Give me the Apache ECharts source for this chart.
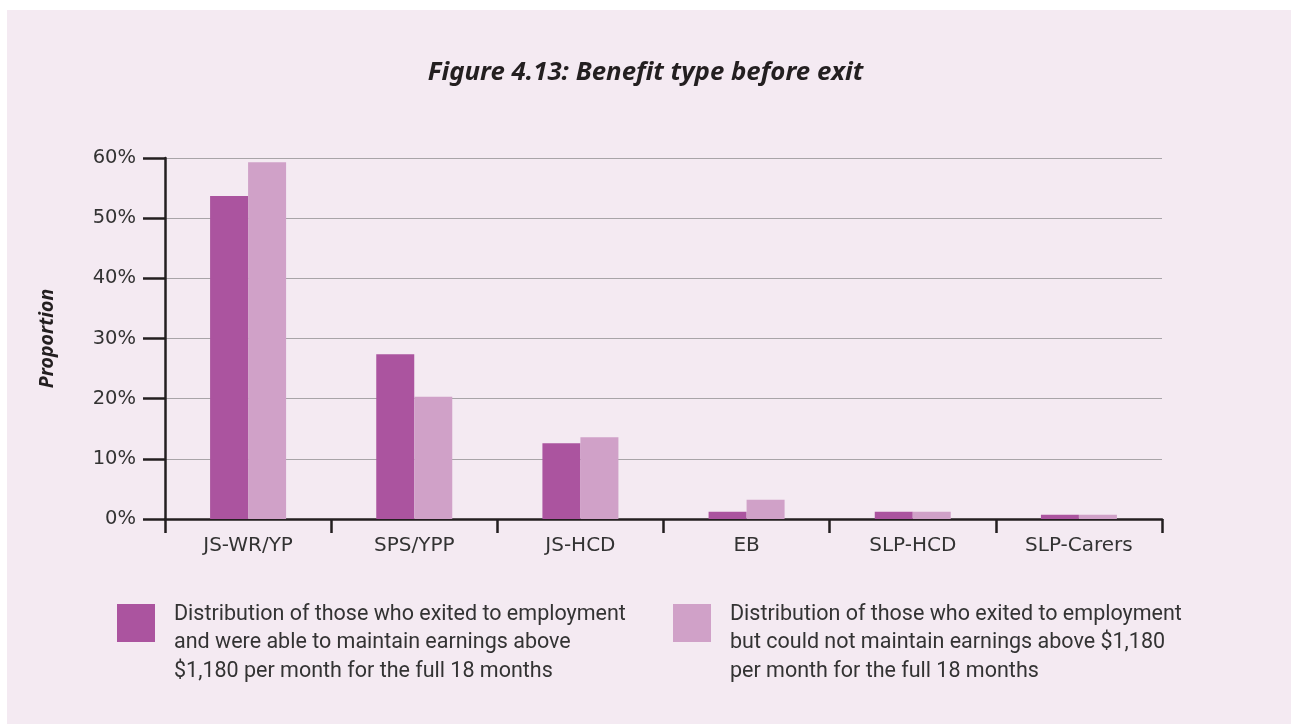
<!DOCTYPE html>
<html>
<head>
    <meta charset="utf-8">
    <title>Figure 4.13</title>
    <script type="text/javascript" src="https://cdn.jsdelivr.net/npm/echarts@6/dist/echarts.min.js"></script>
    <style>
        body { margin: 0; background: #ffffff; }
        #panel { position: absolute; left: 7px; top: 10px; right: 0; bottom: 0; background: #f4eaf2; }
        #container { position: absolute; left: 0; top: 0; width: 1291px; height: 724px; }
    </style>
</head>
<body>
<div id="panel"></div>
<div id="container"></div>
<script type="text/javascript">
    var categories = ['JS-WR/YP', 'SPS/YPP', 'JS-HCD', 'EB', 'SLP-HCD', 'SLP-Carers'];
    var maintained = [53.7, 27.4, 12.6, 1.2, 1.2, 0.7];
    var notMaintained = [59.3, 20.3, 13.6, 3.2, 1.2, 0.7];
    var nameMaintained = 'Distribution of those who exited to employment\nand were able to maintain earnings above\n$1,180 per month for the full 18 months';
    var nameNotMaintained = 'Distribution of those who exited to employment\nbut could not maintain earnings above $1,180\nper month for the full 18 months';

    var myChart = echarts.init(document.getElementById('container'), null, { renderer: 'canvas' });

    // a blank first line pushes the text down so it starts level with the icon top
    var legendText = {
        fontFamily: 'Roboto',
        fontSize: 21.5,
        color: '#333333',
        lineHeight: 28.5,
        padding: [0, 0, 0, 14],
        rich: { g: { lineHeight: 39.5, fontSize: 10 } }
    };
    function legendFormat(name) {
        return '{g| }\n' + name;
    }

    var option = {
        backgroundColor: 'transparent',
        animation: false,
        title: {
            text: 'Figure 4.13: Benefit type before exit',
            left: 'center',
            top: 55,
            textStyle: {
                fontFamily: 'Noto Sans',
                fontStyle: 'italic',
                fontWeight: 'bold',
                fontSize: 25.8,
                color: '#231f20'
            }
        },
        legend: [
            {
                data: [nameMaintained],
                left: 117, top: 560.5, padding: 0,
                icon: 'rect', itemWidth: 38, itemHeight: 38,
                selectedMode: false,
                formatter: legendFormat,
                textStyle: legendText
            },
            {
                data: [nameNotMaintained],
                left: 673, top: 560.5, padding: 0,
                icon: 'rect', itemWidth: 38, itemHeight: 38,
                selectedMode: false,
                formatter: legendFormat,
                textStyle: legendText
            }
        ],
        grid: { left: 165, right: 129, top: 158, bottom: 205 },
        xAxis: {
            type: 'category',
            data: categories,
            axisLine: { lineStyle: { color: '#231f20', width: 2.5 } },
            axisTick: { show: true, length: 14, lineStyle: { color: '#231f20', width: 2.5 } },
            axisLabel: { color: '#333333', fontFamily: 'DejaVu Sans', fontSize: 20, margin: 17 }
        },
        yAxis: {
            type: 'value',
            min: 0, max: 60, interval: 10,
            name: 'Proportion',
            nameLocation: 'middle',
            nameRotate: 90,
            nameGap: 108,
            nameTextStyle: { fontFamily: 'Noto Sans', fontStyle: 'italic', fontWeight: 'bold', fontSize: 19.5, color: '#231f20' },
            axisLine: { show: true, lineStyle: { color: '#231f20', width: 2.5 } },
            axisTick: { show: true, length: 22, lineStyle: { color: '#231f20', width: 2.5 } },
            axisLabel: { formatter: '{value}%', color: '#333333', fontFamily: 'DejaVu Sans', fontSize: 19.5, margin: 29 },
            splitLine: { lineStyle: { color: '#a8a4a8', width: 1.2 } }
        },
        series: [
            {
                name: nameMaintained,
                type: 'bar',
                data: maintained,
                barWidth: 38,
                barGap: '0%',
                itemStyle: { color: '#ab549f' }
            },
            {
                name: nameNotMaintained,
                type: 'bar',
                data: notMaintained,
                barWidth: 38,
                barGap: '0%',
                itemStyle: { color: '#d0a1c8' }
            }
        ]
    };

    myChart.setOption(option);
    window.addEventListener('resize', myChart.resize);
</script>
</body>
</html>
